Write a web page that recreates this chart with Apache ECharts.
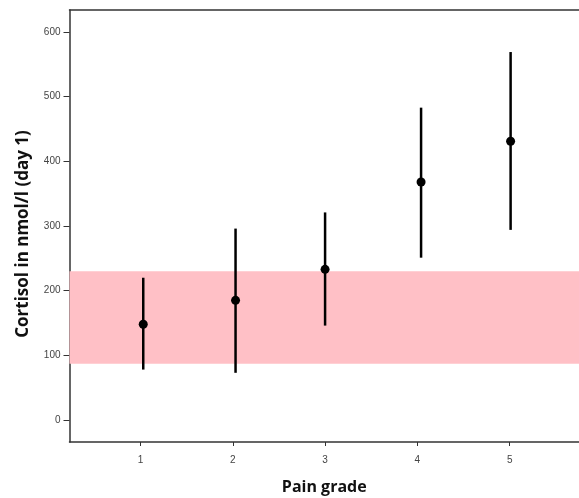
<!DOCTYPE html>
<html><head><meta charset="utf-8">
<script src="https://cdn.jsdelivr.net/npm/echarts@6/dist/echarts.min.js"></script>
<style>html,body{margin:0;padding:0;background:#fff}#c{width:579px;height:498px}</style>
</head><body><div id="c"></div>
<script>
const gradeTicks = [1, 2, 3, 4, 5];
const gradeX = [1.03, 2.03, 3.0, 4.04, 5.01];
const means = [148, 185, 233, 368, 431];
const lows = [78, 73, 146, 251, 294];
const highs = [220, 296, 321, 483, 569];
const yTicks = [0, 100, 200, 300, 400, 500, 600];
const refBand = [87, 230];

const chart = echarts.init(document.getElementById('c'));
const barData = gradeX.map((x, i) => [x, lows[i], highs[i]]);
const meanData = gradeX.map((x, i) => [x, means[i]]);
const tickFont = {fontFamily: 'Liberation Sans, Arial', fontSize: 10, color: '#444'};
const axisLine = {show: true, onZero: false, lineStyle: {color: '#333', width: 1.5}};
chart.setOption({
  animation: false,
  grid: {left: 69.5, right: 0, top: 10, bottom: 56, show: false, containLabel: false, outerBoundsMode: 'none'},
  xAxis: [{
    type: 'value', min: 0.231, max: 5.751,
    name: 'Pain grade', nameLocation: 'middle', nameGap: 37,
    nameTextStyle: {fontFamily: 'Open Sans', fontWeight: 'bold', fontSize: 16, color: '#111'},
    axisLine: axisLine,
    axisTick: {show: true, length: 4, customValues: gradeTicks, lineStyle: {color: '#333'}},
    axisLabel: Object.assign({customValues: gradeTicks, margin: 13}, tickFont),
    splitLine: {show: false}
  }, {
    type: 'value', position: 'top', min: 0.231, max: 5.751,
    axisLine: axisLine, axisTick: {show: false}, axisLabel: {show: false}, splitLine: {show: false}
  }],
  yAxis: {
    type: 'value', min: -34, max: 634,
    name: 'Cortisol in nmol/l (day 1)', nameLocation: 'middle', nameGap: 38,
    nameTextStyle: {fontFamily: 'Open Sans', fontWeight: 'bold', fontSize: 17, color: '#111', padding: [0, 16, 0, 0]},
    axisLine: axisLine,
    axisTick: {show: true, inside: false, length: 6, customValues: yTicks, lineStyle: {color: '#333'}},
    axisLabel: Object.assign({customValues: yTicks, margin: 9}, tickFont),
    splitLine: {show: false}
  },
  series: [
    {
      type: 'custom', data: barData, z: 3,
      renderItem: function (params, api) {
        const p1 = api.coord([api.value(0), api.value(1)]);
        const p2 = api.coord([api.value(0), api.value(2)]);
        return {type: 'line', shape: {x1: p1[0], y1: p1[1], x2: p2[0], y2: p2[1]},
                style: {stroke: '#000', lineWidth: 2.5}};
      },
      markArea: {
        silent: true,
        itemStyle: {color: '#ffc0c6', opacity: 1},
        data: [[{yAxis: refBand[0]}, {yAxis: refBand[1]}]]
      }
    },
    {
      type: 'scatter', data: meanData, symbol: 'circle', symbolSize: 9, z: 4,
      itemStyle: {color: '#000', opacity: 1}
    }
  ]
});
</script></body></html>
